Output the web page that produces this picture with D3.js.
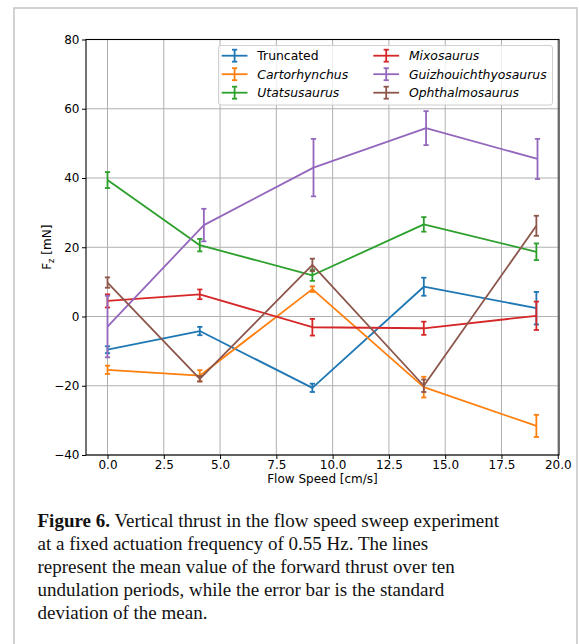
<!DOCTYPE html>
<html>
<head>
<meta charset="utf-8">
<script src="https://cdn.jsdelivr.net/npm/d3@7/dist/d3.min.js"></script>
<style>
  html, body { margin: 0; padding: 0; background: #fff; }
  svg { display: block; }
</style>
</head>
<body>
<svg id="chart" width="579" height="644"></svg>
<script>
// Flow speed sweep: vertical thrust Fz (mN), mean ± standard deviation of the mean
const seriesNames = ["Truncated", "Cartorhynchus", "Utatsusaurus", "Mixosaurus", "Guizhouichthyosaurus", "Ophthalmosaurus"];
const italicNames = [false, true, true, true, true, true];
const seriesColors = ["#1f77b4", "#ff7f0e", "#2ca02c", "#d62728", "#9467bd", "#8c564b"];

const flowSpeed = [0, 4.1, 9.1, 14.05, 19.05];
const flowSpeedGuizhou = [0, 4.28, 9.15, 14.15, 19.1];

const truncatedMean = [-9.6, -4.2, -20.6, 8.6, 2.4];
const truncatedErr = [1.0, 1.2, 1.2, 2.6, 4.7];
const cartorhynchusMean = [-15.4, -17.1, 7.9, -20.4, -31.6];
const cartorhynchusErr = [1.2, 1.6, 0.8, 3.0, 3.2];
const utatsusaurusMean = [39.4, 20.6, 11.9, 26.6, 18.7];
const utatsusaurusErr = [2.3, 1.8, 1.6, 2.1, 2.4];
const mixosaurusMean = [4.5, 6.4, -3.1, -3.4, 0.2];
const mixosaurusErr = [1.9, 1.4, 2.4, 1.9, 4.1];
const guizhouMean = [-2.9, 26.4, 43.0, 54.4, 45.5];
const guizhouErr = [8.9, 4.7, 8.3, 4.9, 5.8];
const ophthalmosaurusMean = [9.8, -18.0, 14.9, -20.0, 26.2];
const ophthalmosaurusErr = [1.5, 0.8, 1.8, 1.8, 2.9];

const xTicks = [0, 2.5, 5, 7.5, 10, 12.5, 15, 17.5, 20];
const yTicks = [-40, -20, 0, 20, 40, 60, 80];

const captionBold = "Figure 6.";
const captionLines = [
  " Vertical thrust in the flow speed sweep experiment",
  "at a fixed actuation frequency of 0.55 Hz. The lines",
  "represent the mean value of the forward thrust over ten",
  "undulation periods, while the error bar is the standard",
  "deviation of the mean."
];

const series = [
  { x: flowSpeed, y: truncatedMean, e: truncatedErr },
  { x: flowSpeed, y: cartorhynchusMean, e: cartorhynchusErr },
  { x: flowSpeed, y: utatsusaurusMean, e: utatsusaurusErr },
  { x: flowSpeed, y: mixosaurusMean, e: mixosaurusErr },
  { x: flowSpeedGuizhou, y: guizhouMean, e: guizhouErr },
  { x: flowSpeed, y: ophthalmosaurusMean, e: ophthalmosaurusErr }
].map((s, i) => ({ ...s, name: seriesNames[i], color: seriesColors[i], italic: italicNames[i] }));

const svg = d3.select("#chart");
const plot = { left: 86, right: 559, top: 39.5, bottom: 455 };
const font = "'DejaVu Sans', sans-serif";
const fs = 12;
const legendFs = 12.4;

// outer figure frame
svg.append("rect")
  .attr("x", 14).attr("y", 8).attr("width", 563).attr("height", 660)
  .attr("fill", "#fff").attr("stroke", "#c4c4c4").attr("stroke-width", 1.5);

// x domain with 5% margins around the data extent
const allX = series.flatMap(s => s.x);
const xMin = d3.min(allX), xMax = d3.max(allX), pad = (xMax - xMin) * 0.05;
const x = d3.scaleLinear().domain([xMin - pad, xMax + pad]).range([plot.left, plot.right]);
const y = d3.scaleLinear().domain([-40, 80]).range([plot.bottom, plot.top]);

const fmtX = d3.format(".1f");
const fmtY = v => (v < 0 ? "\u2212" + Math.abs(v) : String(v));

// grid
const grid = svg.append("g").attr("stroke", "#b0b0b0").attr("stroke-width", 1);
grid.selectAll("line.gx").data(xTicks).join("line")
  .attr("x1", d => x(d)).attr("x2", d => x(d)).attr("y1", plot.top).attr("y2", plot.bottom);
grid.selectAll("line.gy").data(yTicks).join("line")
  .attr("y1", d => y(d)).attr("y2", d => y(d)).attr("x1", plot.left).attr("x2", plot.right);

// axes
const xAxis = d3.axisBottom(x).tickValues(xTicks).tickFormat(fmtX).tickSizeInner(4).tickSizeOuter(0).tickPadding(1.5);
const yAxis = d3.axisLeft(y).tickValues(yTicks).tickFormat(fmtY).tickSizeInner(4).tickSizeOuter(0).tickPadding(2.5);
const gx = svg.append("g").attr("transform", `translate(0,${plot.bottom})`).call(xAxis);
const gy = svg.append("g").attr("transform", `translate(${plot.left},0)`).call(yAxis);
[gx, gy].forEach(g => {
  g.select(".domain").remove();
  g.selectAll(".tick line").attr("stroke", "#000").attr("stroke-width", 1);
  g.selectAll(".tick text").attr("fill", "#000").style("font-family", font).style("font-size", fs + "px");
});

// series: error bars then connecting line
const lineGen = d3.line();
series.forEach(s => {
  const g = svg.append("g").attr("stroke", s.color).attr("fill", "none");
  s.x.forEach((xv, i) => {
    const px = x(xv), top = y(s.y[i] + s.e[i]), bot = y(s.y[i] - s.e[i]);
    g.append("line").attr("x1", px).attr("x2", px).attr("y1", top).attr("y2", bot).attr("stroke-width", 1.8);
    g.append("line").attr("x1", px - 2.6).attr("x2", px + 2.6).attr("y1", top).attr("y2", top).attr("stroke-width", 1.8);
    g.append("line").attr("x1", px - 2.6).attr("x2", px + 2.6).attr("y1", bot).attr("y2", bot).attr("stroke-width", 1.8);
  });
  g.append("path")
    .attr("d", lineGen(s.x.map((xv, i) => [x(xv), y(s.y[i])])))
    .attr("stroke-width", 1.8).attr("stroke-linejoin", "round");
});

// spines
svg.append("rect")
  .attr("x", plot.left).attr("y", plot.top)
  .attr("width", plot.right - plot.left).attr("height", plot.bottom - plot.top)
  .attr("fill", "none").attr("stroke", "#000").attr("stroke-width", 1.1);

// legend
const legend = svg.append("g");
legend.append("rect")
  .attr("x", 218.5).attr("y", 45.5).attr("width", 334).attr("height", 59.5).attr("rx", 2.5)
  .attr("fill", "#fff").attr("fill-opacity", 0.8).attr("stroke", "#d0d0d0").attr("stroke-width", 1);
const colX = [221.7, 373.3], rowY = [55.7, 74.2, 92.7];
series.forEach((s, i) => {
  const c = Math.floor(i / 3), r = i % 3;
  const x0 = colX[c], x1 = x0 + 25.8, xm = (x0 + x1) / 2, yy = rowY[r];
  const g = legend.append("g").attr("stroke", s.color).attr("stroke-width", 1.8);
  g.append("line").attr("x1", x0).attr("x2", x1).attr("y1", yy).attr("y2", yy);
  g.append("line").attr("x1", xm).attr("x2", xm).attr("y1", yy - 6).attr("y2", yy + 6);
  g.append("line").attr("x1", xm - 2.6).attr("x2", xm + 2.6).attr("y1", yy - 6).attr("y2", yy - 6);
  g.append("line").attr("x1", xm - 2.6).attr("x2", xm + 2.6).attr("y1", yy + 6).attr("y2", yy + 6);
  legend.append("text")
    .attr("x", x0 + 35.6).attr("y", yy).attr("dy", "0.36em")
    .style("font-family", font).style("font-size", legendFs + "px")
    .style("font-style", s.italic ? "italic" : "normal")
    .attr("fill", "#000").text(s.name);
});

// axis labels
svg.append("text")
  .attr("x", (plot.left + plot.right) / 2).attr("y", 483)
  .attr("text-anchor", "middle").style("font-family", font).style("font-size", fs + "px")
  .text("Flow Speed [cm/s]");
const yl = svg.append("text")
  .attr("transform", `translate(51,${(plot.top + plot.bottom) / 2}) rotate(-90)`)
  .attr("text-anchor", "middle").style("font-family", font).style("font-size", fs + "px");
yl.append("tspan").text("F");
yl.append("tspan").attr("dy", 3).style("font-size", "8.5px").text("z");
yl.append("tspan").attr("dy", -3).text(" [mN]");

// caption
const cap = svg.append("g").style("font-family", "'Liberation Serif', 'Times New Roman', serif").style("font-size", "19px").attr("fill", "#111");
const capY0 = 526.5, capDy = 23.2;
captionLines.forEach((line, i) => {
  const t = cap.append("text").attr("x", 37.5).attr("y", capY0 + i * capDy);
  if (i === 0) t.append("tspan").style("font-weight", "bold").text(captionBold);
  t.append("tspan").text(line);
});
</script>
</body>
</html>
